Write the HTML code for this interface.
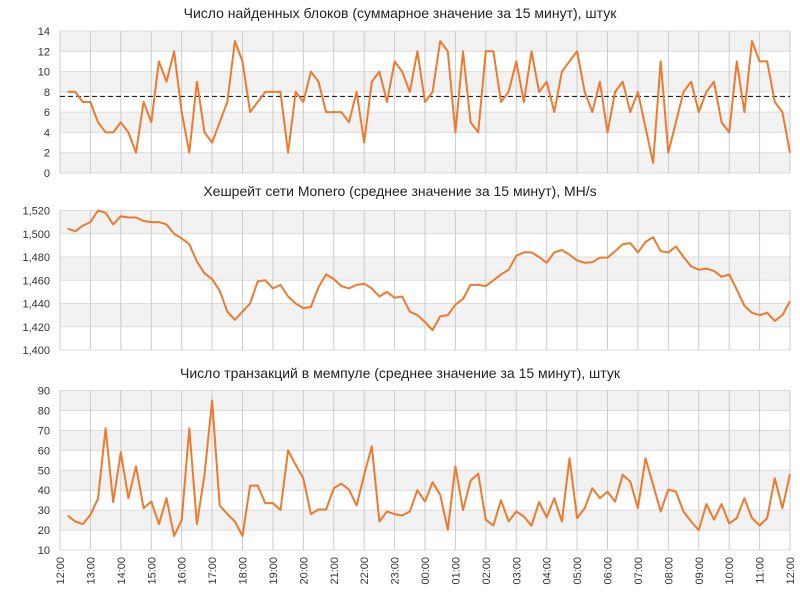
<!DOCTYPE html>
<html><head><meta charset="utf-8">
<style>
body{margin:0;background:#fff;}
svg{display:block;font-family:"Liberation Sans","DejaVu Sans",sans-serif;}
</style></head>
<body>
<svg id="chart" width="800" height="600" viewBox="0 0 800 600" xmlns="http://www.w3.org/2000/svg"></svg>
<script>
const timeLabels=["12:00","13:00","14:00","15:00","16:00","17:00","18:00","19:00","20:00","21:00","22:00","23:00","00:00","01:00","02:00","03:00","04:00","05:00","06:00","07:00","08:00","09:00","10:00","11:00","12:00"];
const blocks=[8,8,7,7,5,4,4,5,4,2,7,5,11,9,12,6,2,9,4,3,5,7,13,11,6,7,8,8,8,2,8,7,10,9,6,6,6,5,8,3,9,10,7,11,10,8,12,7,8,13,12,4,12,5,4,12,12,7,8,11,7,12,8,9,6,10,11,12,8,6,9,4,8,9,6,8,4.5,1,11,2,5,8,9,6,8,9,5,4,11,6,13,11,11,7,6,2];
const blocksAvg=[7.55];
const hashrate=[1504.5,1502,1507,1510,1520,1518,1508,1515,1514,1514,1511,1510,1510,1508,1500,1496,1491,1476,1466,1461,1451,1433,1426,1433,1440,1459,1460,1453,1456,1446,1440,1436,1437,1454,1465,1461,1455,1453,1456,1457,1453,1446,1450,1445,1446,1433,1430,1424,1417,1429,1430,1439,1444,1456,1456,1455,1460,1465,1469,1481,1484,1484,1480,1475,1484,1486,1482,1477,1475,1475.5,1479.5,1479.5,1485,1491,1492,1484,1493,1497,1485,1484,1489,1480,1472,1469,1470,1468,1463,1465,1452,1438,1432,1430,1432,1425,1430,1442];
const mempool=[27.3,24.3,23,27.7,35.7,71,34,59,36,52,31,34.3,23,36,17,25,71,23,47.7,85,32.3,28,24.3,17,42.3,42.3,33.5,33.5,30,60,52.7,46,28,30.3,30.3,41,43.3,40.3,32.3,47.7,62,24.3,29.3,28,27.3,29.3,40,34.3,44,37.7,20.2,52,30,44.8,48.3,25.2,22.3,35,24.3,29.3,26.8,22.2,34,26.3,36,24.3,56,26,31,41,36,39.3,34.3,47.7,44.3,31,56,42.7,29.3,40.3,39.3,29.3,24.3,20,33,25.2,33,23.3,26,36,26,22.3,26,46,31,48];
const blocksTicks=[0,2,4,6,8,10,12,14];
const hashTicks=[1400,1420,1440,1460,1480,1500,1520];
const memTicks=[10,20,30,40,50,60,70,80,90];

const NS="http://www.w3.org/2000/svg";
const svg=document.getElementById('chart');
const X0=60,X1=790,HOURS=24;
function xHour(h){return X0+(X1-X0)*h/HOURS;}
function xIdx(i){return xHour((i+1)/4);}
function mk(tag,attrs,parent){const e=document.createElementNS(NS,tag);for(const k in attrs)e.setAttribute(k,attrs[k]);(parent||svg).appendChild(e);return e;}

function panel(cfg){
  const g=mk('g',{});
  
  
  const y=v=>cfg.y1-(v-cfg.min)/(cfg.max-cfg.min)*(cfg.y1-cfg.y0);
  const t=cfg.ticks;
  for(let k=t.length-1;k>0;k-=2){
    const r=mk('rect',{x:X0,y:y(t[k]),width:X1-X0,height:y(t[k-1])-y(t[k]),fill:'#f2f2f2'},g);
    
    
  }
  t.forEach(v=>{
    const l=mk('line',{x1:X0,x2:X1,y1:y(v),y2:y(v),stroke:'#dcdcdc','stroke-width':1},g);
    
    
    const tx=mk('text',{x:50,y:y(v)+4,'text-anchor':'end','font-size':11,fill:'#333'},g);
    
    
    tx.textContent=cfg.fmt?cfg.fmt(v):v;
  });
  for(let h=0;h<=HOURS;h++){
    const l=mk('line',{x1:xHour(h),x2:xHour(h),y1:cfg.y0,y2:cfg.y1,stroke:'#cccccc','stroke-width':1},g);
    
    
  }
  const tt=mk('text',{x:400,y:cfg.ty,'text-anchor':'middle','font-size':14,fill:'#222'},g);
  
  
  tt.textContent=cfg.title;
  if(cfg.avg){
    const a=mk('line',{x1:X0,x2:X1,y1:y(cfg.avg[0]),y2:y(cfg.avg[0]),stroke:'#000','stroke-width':1,'stroke-dasharray':'5,3'},g);
    
    
  }
  const pts=cfg.data.map((v,i)=>xIdx(i).toFixed(1)+','+y(v).toFixed(1)).join(' ');
  const p=mk('polyline',{points:pts,fill:'none',stroke:'#ec7a2f','stroke-width':2,'stroke-linejoin':'round'},g);
  
  
}
panel({name:'blocks-panel',title:'Число найденных блоков (суммарное значение за 15 минут), штук',ty:18,y0:31,y1:173,min:0,max:14,ticks:blocksTicks,data:blocks,avg:blocksAvg});
panel({name:'hashrate-panel',title:'Хешрейт сети Monero (среднее значение за 15 минут), MH/s',ty:196,y0:210.5,y1:350,min:1400,max:1520,ticks:hashTicks,data:hashrate,fmt:v=>String(v).replace(/^(\d)(\d{3})$/,'$1,$2')});
panel({name:'mempool-panel',title:'Число транзакций в мемпуле (среднее значение за 15 минут), штук',ty:378,y0:390.5,y1:550,min:10,max:90,ticks:memTicks,data:mempool});
timeLabels.forEach((s,h)=>{
  const tx=mk('text',{x:0,y:0,'font-size':11,fill:'#333','text-anchor':'end',transform:'translate('+(xHour(h)+4)+',557) rotate(-90)'});
  
  
  tx.textContent=s;
});
</script>
</body></html>
